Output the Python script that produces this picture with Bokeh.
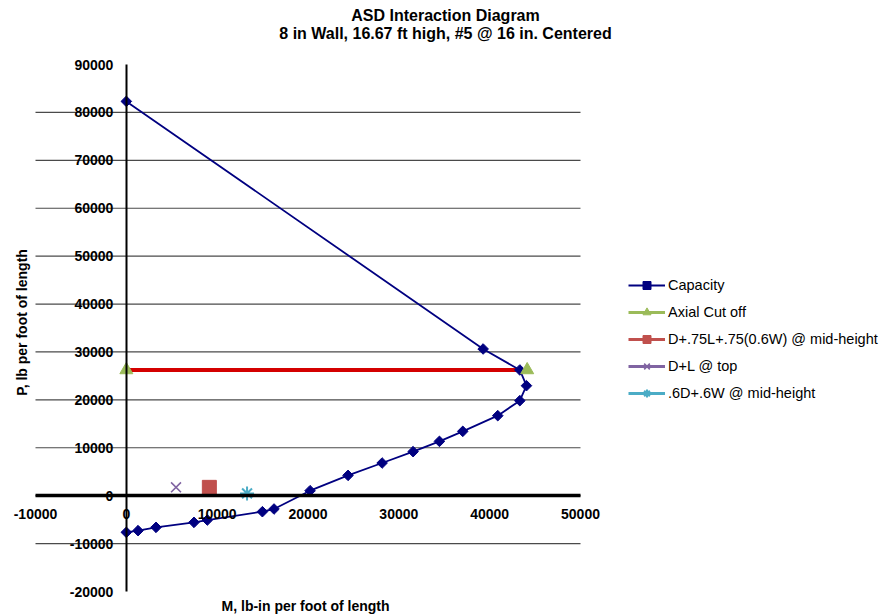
import numpy as np
from bokeh.plotting import figure
from bokeh.models import (Range1d, FixedTicker, Legend, LegendItem,
                          NumeralTickFormatter, Label)
from bokeh.embed import file_html
from bokeh.resources import INLINE

# ---- data ----
capacity_m = [0, 39280, 43320, 44050, 43320, 40890, 37040, 34470, 31570, 28160,
              24410, 20230, 16260, 14980, 8920, 7450, 3270, 1290, 0]
capacity_p = [82300, 30620, 26240, 22960, 19830, 16700, 13430, 11340, 9190, 6820,
              4240, 1040, -2780, -3340, -5080, -5570, -6610, -7300, -7650]
axial_m = [0, 44130]
axial_p = [26240, 26240]
cutoff_line_m = [0, 43320]
cutoff_line_p = [26240, 26240]
mid75_m = [9140]
mid75_p = [1740]
dl_top_m = [5470]
dl_top_p = [1740]
w6_mid_m = [13290]
w6_mid_p = [480]

x_ticks = [-10000, 0, 10000, 20000, 30000, 40000, 50000]
y_ticks = [-20000, -10000, 0, 10000, 20000, 30000, 40000, 50000, 60000, 70000, 80000, 90000]
grid_ticks = [-10000, 0, 10000, 20000, 30000, 40000, 50000, 60000, 70000, 80000]

title_lines = ["ASD Interaction Diagram", "8 in Wall, 16.67 ft high, #5 @ 16 in. Centered"]
x_label = "M, lb-in  per foot of length"
y_label = "P, lb per foot of length"
series_names = ["Capacity", "Axial Cut off", "D+.75L+.75(0.6W) @ mid-height",
                "D+L @ top", ".6D+.6W @ mid-height"]

FONT = "Liberation Sans"

# ---- layout: the frame covers the whole figure; the plot area is placed by range ----
W, H = 885, 614
AREA_L, AREA_R = 35, 580     # x of plot area inside figure (px)
AREA_T, AREA_B = 64, 591     # y of plot area inside figure (px)
xs = (AREA_R - AREA_L) / (x_ticks[-1] - x_ticks[0])
ys = (AREA_B - AREA_T) / (y_ticks[-1] - y_ticks[0])
x_range = Range1d(x_ticks[0] - AREA_L / xs, x_ticks[-1] + (W - AREA_R) / xs)
y_range = Range1d(y_ticks[0] - (H - AREA_B) / ys, y_ticks[-1] + AREA_T / ys)

p = figure(width=W, height=H, x_range=x_range, y_range=y_range,
           output_backend="svg", toolbar_location=None,
           min_border_left=0, min_border_right=0, min_border_top=0, min_border_bottom=0)
p.title.visible = False
p.outline_line_color = None
p.background_fill_color = "white"
p.border_fill_color = "white"
p.xgrid.visible = False
p.ygrid.visible = False

# horizontal gridlines over the plot area only
p.segment(x0=[x_ticks[0]] * len(grid_ticks), y0=grid_ticks,
          x1=[x_ticks[-1]] * len(grid_ticks), y1=grid_ticks,
          line_color="#4a4a4a", line_width=1.2)

# axes crossing at 0
for ax in (p.xaxis[0], p.yaxis[0]):
    ax.fixed_location = 0
    ax.formatter = NumeralTickFormatter(format="0")
    ax.major_tick_in = 0
    ax.major_tick_out = 0
    ax.minor_tick_in = 0
    ax.minor_tick_out = 0
    ax.axis_line_color = "black"
    ax.major_label_text_font = FONT
    ax.major_label_text_font_style = "bold"
    ax.major_label_text_font_size = "14px"
    ax.major_label_text_color = "black"
p.xaxis[0].ticker = FixedTicker(ticks=x_ticks, minor_ticks=[])
p.yaxis[0].ticker = FixedTicker(ticks=y_ticks, minor_ticks=[])
p.xaxis[0].bounds = (x_ticks[0], x_ticks[-1])
p.yaxis[0].bounds = (y_ticks[0], y_ticks[-1])
p.xaxis[0].axis_line_width = 3.5
p.yaxis[0].axis_line_width = 2
p.xaxis[0].major_label_standoff = 13
p.yaxis[0].major_label_standoff = 13

# ---- glyphs ----
ax_line = p.line(axial_m, axial_p, line_color="#9BBB59", line_width=3)
p.line(cutoff_line_m, cutoff_line_p, line_color="#D40000", line_width=4)
cap_line = p.line(capacity_m, capacity_p, line_color="#000080", line_width=1.8)
cap_pts = p.scatter(capacity_m, capacity_p, marker="square", angle=np.pi / 4, size=7.5,
                    fill_color="#000080", line_color="#000080")
ax_pts = p.scatter(axial_m, axial_p, marker="triangle", size=13,
                   fill_color="#9BBB59", line_color="#9BBB59")
r_line = p.line(mid75_m, mid75_p, line_color="#C0504D", line_width=3)
r_pts = p.scatter(mid75_m, mid75_p, marker="square", size=14,
                  fill_color="#C0504D", line_color="#C0504D")
pu_line = p.line(dl_top_m, dl_top_p, line_color="#8064A2", line_width=3)
pu_pts = p.scatter(dl_top_m, dl_top_p, marker="x", size=14,
                   line_color="#8064A2", line_width=1.6)
cy_line = p.line(w6_mid_m, w6_mid_p, line_color="#4BACC6", line_width=3)
cy_pts = p.scatter(w6_mid_m, w6_mid_p, marker="asterisk", size=14,
                   line_color="#4BACC6", line_width=2)

legend = Legend(items=[
    LegendItem(label=series_names[0], renderers=[cap_line, cap_pts]),
    LegendItem(label=series_names[1], renderers=[ax_line, ax_pts]),
    LegendItem(label=series_names[2], renderers=[r_line, r_pts]),
    LegendItem(label=series_names[3], renderers=[pu_line, pu_pts]),
    LegendItem(label=series_names[4], renderers=[cy_line, cy_pts]),
], location=(628, 211), orientation="vertical",
    glyph_width=37, glyph_height=20, label_height=20, spacing=7,
    label_standoff=3, padding=0, margin=0,
    border_line_color=None, background_fill_alpha=0,
    label_text_font=FONT, label_text_font_size="14.5px", label_text_color="black")
p.add_layout(legend, "center")

def add_text(txt, x, y_from_top, size, angle=0.0):
    p.add_layout(Label(x=x, y=H - y_from_top, x_units="screen", y_units="screen", text=txt,
                       angle=angle, text_align="center", text_baseline="middle",
                       text_font=FONT, text_font_style="bold", text_font_size=size,
                       text_color="black"))

add_text(title_lines[0], 445, 15, "16px")
add_text(title_lines[1], 445, 33, "16px")
add_text(y_label, 21, 322, "14px", angle=np.pi / 2)
add_text(x_label, 307, 605, "14px")

open("out.html", "w").write(file_html(p, INLINE))
